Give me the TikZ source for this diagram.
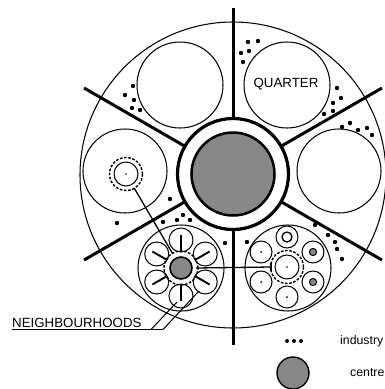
\documentclass[tikz,border=0pt]{standalone}
\usepackage{fontspec}
\setmainfont{Liberation Sans}
\usetikzlibrary{calc}
\definecolor{centregray}{RGB}{135,135,135}
\begin{document}
\begin{tikzpicture}[x=1pt,y=-1pt,
  thinline/.style={line width=1.05pt},
  roadline/.style={line width=3pt},
  spoke/.style={line width=1.9pt},
  dashring/.style={line width=1.4pt,dash pattern=on 2.6pt off 1.6pt},
  indot/.style={fill=black},
  lbl/.style={inner sep=0pt,font=\fontsize{13.3}{15}\selectfont},
  legtxt/.style={inner sep=0pt,anchor=west,font=\fontsize{12.3}{14}\selectfont}]
\useasboundingbox (0,0) rectangle (385,389);
\coordinate (C) at (233,174);
\coordinate (M) at (233,175);
% main circle
\draw[thinline] (M) circle[radius=153pt];
% roads
\draw[roadline] (233,8) -- (233,118);
\draw[roadline] (233,230) -- (233,345);
\foreach \a in {30,150,210,330}{
  \draw[roadline] (C) ++(\a:56pt) -- ++(\a:116pt);
}
% centre ring
\draw[line width=3.2pt,fill=white] (C) circle[radius=55.5pt];
\draw[line width=2.5pt,fill=centregray] (C) circle[radius=41.5pt];
% quarters
\coordinate (qTL) at (180,85);
\coordinate (qTR) at (287,85);
\coordinate (qL) at (125,171);
\coordinate (qR) at (339,171);
\coordinate (qBL) at (181,268);
\coordinate (qBR) at (288,268);
\foreach \q in {qTL,qTR,qBL,qBR}{\draw[thinline] (\q) circle[radius=43pt];}
\foreach \q in {qL,qR}{\draw[thinline] (\q) circle[radius=42pt];}
\node[lbl] (quarter) at (286,84) {QUARTER};
% left quarter neighbourhood
\coordinate (nL) at (126,174);
\draw[thinline] (nL) circle[radius=12pt];
\draw[dashring] (nL) circle[radius=16.5pt];
\fill (nL) circle[radius=0.9pt];
% bottom-left neighbourhoods
\coordinate (nBL) at (181,268);
\foreach \a in {90,30,-30,-90,-150,150}{
  \draw[thinline] (nBL) ++(\a:28pt) circle[radius=12pt];
  \draw[spoke] (nBL) ++(\a:33pt) -- ++(\a:-16pt);
}
\draw[dashring] (nBL) circle[radius=17pt];
\draw[line width=1.6pt,fill=centregray] (nBL) circle[radius=11pt];
% bottom-right neighbourhoods
\coordinate (nBR) at (287,267);
\draw[thinline] (nBR) circle[radius=12pt];
\draw[dashring] (nBR) circle[radius=16.5pt];
\fill (nBR) circle[radius=0.9pt];
\foreach \a in {90,30,-30,-90,-150,150}{
  \draw[thinline] (nBR) ++(\a:30pt) circle[radius=11pt];
}
\draw[line width=1.3pt] (nBR) ++(90:30pt) circle[radius=5pt];
\foreach \a in {30,-30}{
  \draw[line width=1pt,fill=centregray] (nBR) ++(\a:30pt) circle[radius=3.6pt];
}
\foreach \a in {-90,-150,150}{
  \fill (nBR) ++(\a:30pt) circle[radius=1pt];
}
% connectors between neighbourhoods
\draw[line width=1.3pt] (nL) ++(-59.7:16.5pt) -- ($(nBL)+(120.3:17pt)$);
\draw[line width=1.3pt] (nBL) ++(0:15pt) coordinate (hA) -- ($(nBR)+(180:16pt)$) coordinate (hB);
\draw[line width=1.3pt] (hB) ++(0,-4) -- ++(0,8);
% industry dots
\foreach \p in {(248,42),(258,41),(241,53),(249,51),(243,62),
  (133,86),(125,95),(134,100),(132,108),(140,110),
  (337,88),(341,98),(333,103),(333,111),(324,114),
  (342,127),(350,123),(358,130),(367,128),(372,135),
  (315,225),(328,235),(335,242),(337,249),(342,259),
  (247,242),(225,243),
  (163,222),(177,220),(190,220),(183,215),(170,199),
  (117,223)}{
  \fill[indot] \p circle[radius=2.2pt];
}
% label NEIGHBOURHOODS
\node[lbl,anchor=south west] (nbh) at (12,327.5) {NEIGHBOURHOODS};
\draw[thinline] (nbh.south west) ++(0,2) coordinate (u1) -- (163,329.5) coordinate (u2);
\draw[thinline] (151,329.5) -- (177,302);
\draw[thinline] (u2) -- (199,291);
% legend
\foreach \x in {287,294,301}{\fill[indot] (\x,341) circle[radius=2pt];}
\node[legtxt] (lind) at (340,341) {industry};
\draw[line width=1.4pt,fill=centregray] (293,373) circle[radius=16pt];
\node[legtxt] (lcen) at (350,373) {centre};
\end{tikzpicture}
\end{document}
